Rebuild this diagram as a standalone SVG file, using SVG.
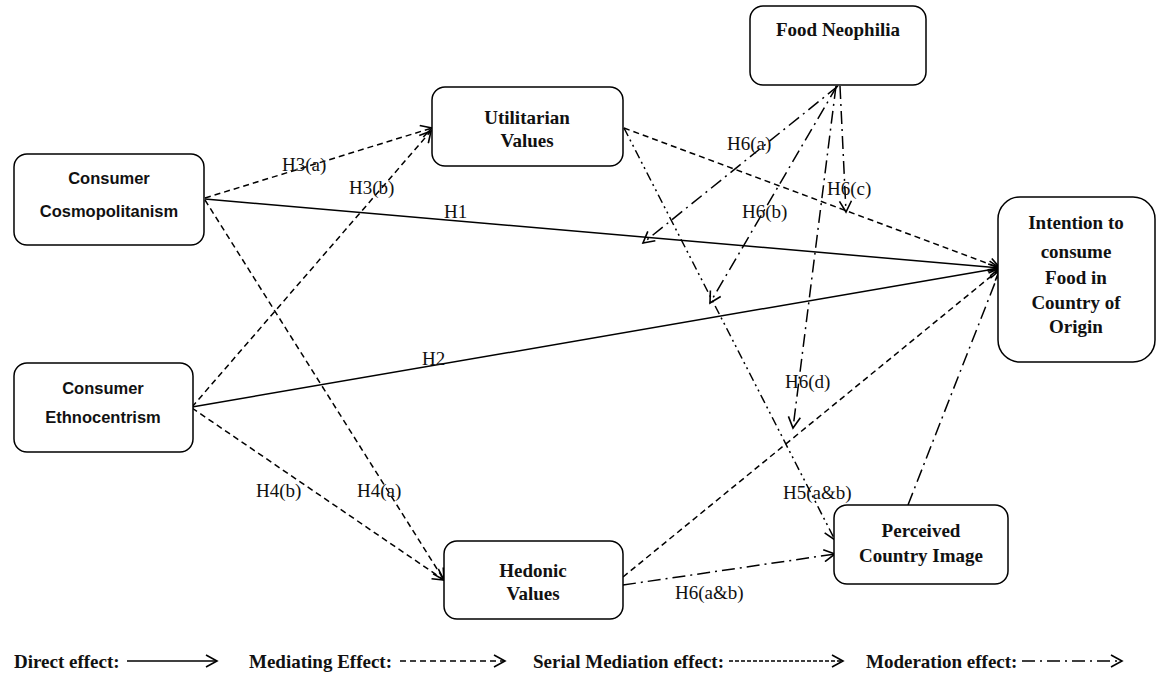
<svg xmlns="http://www.w3.org/2000/svg" width="1161" height="675" viewBox="0 0 1161 675">
<defs>
<marker id="ah" markerWidth="14" markerHeight="14" refX="12" refY="7" orient="auto" markerUnits="userSpaceOnUse">
<path d="M1,1 L12,7 L1,13" fill="none" stroke="#000" stroke-width="1.6"/>
</marker>
<style>
.box{fill:#fff;stroke:#000;stroke-width:1.5}
.t{font-family:'Liberation Serif','Times New Roman',serif;font-weight:bold;font-size:19px;text-anchor:middle;fill:#111}
.s{font-family:'Liberation Sans',Arial,sans-serif;font-weight:bold;font-size:16.5px;text-anchor:middle;fill:#111}
.lb{font-family:'Liberation Serif','Times New Roman',serif;font-size:19px;fill:#111}
.lg{font-family:'Liberation Serif','Times New Roman',serif;font-weight:bold;font-size:19px;fill:#111}
.c{fill:none;stroke:#000;stroke-width:1.5;marker-end:url(#ah)}
.dash{stroke-dasharray:6,4}
.fine{stroke-dasharray:4,2}
.serial{stroke-dasharray:9,4,2,4,2,4}
.mod{stroke-dasharray:13,5,2,5}
</style>
</defs>
<rect width="1161" height="675" fill="#fff"/>
<g id="connectors">
<line class="c" x1="205" y1="199" x2="1000" y2="268"/>
<line class="c" x1="192" y1="407" x2="1000" y2="268"/>
<line class="c dash" x1="205" y1="198" x2="432" y2="128"/>
<line class="c dash" x1="192" y1="407" x2="431" y2="131"/>
<line class="c dash" x1="205" y1="200" x2="444" y2="580"/>
<line class="c dash" x1="192" y1="408" x2="444" y2="580"/>
<line class="c dash" x1="624" y1="128" x2="1000" y2="268"/>
<line class="c dash" x1="623" y1="577" x2="1000" y2="269"/>
<line class="c serial" x1="624" y1="128" x2="835" y2="540"/>
<line class="c mod" x1="838" y1="86" x2="643" y2="243"/>
<line class="c mod" x1="837" y1="86" x2="710" y2="303"/>
<line class="c mod" x1="840" y1="86" x2="846" y2="212"/>
<line class="c mod" x1="836" y1="86" x2="793" y2="428"/>
<line class="c mod" x1="623" y1="585" x2="835" y2="554"/>
<line class="c mod" x1="908" y1="505" x2="1000" y2="270"/>
<text class="lb" x="444" y="218">H1</text>
<text class="lb" x="422" y="365">H2</text>
<text class="lb" x="282" y="171">H3(a)</text>
<text class="lb" x="349" y="194">H3(b)</text>
<text class="lb" x="357" y="497">H4(a)</text>
<text class="lb" x="256" y="497">H4(b)</text>
<text class="lb" x="727" y="150">H6(a)</text>
<text class="lb" x="742" y="218">H6(b)</text>
<text class="lb" x="827" y="195">H6(c)</text>
<text class="lb" x="785" y="388">H6(d)</text>
<text class="lb" x="783" y="499">H5(a&amp;b)</text>
<text class="lb" x="675" y="599">H6(a&amp;b)</text>
</g>
<g id="cc">
<rect class="box" x="14" y="154" width="190" height="91" rx="13"/>
<text class="s" x="109" y="184">Consumer</text>
<text class="s" x="109" y="217">Cosmopolitanism</text>
</g>
<g id="ce">
<rect class="box" x="14" y="363" width="179" height="89" rx="13"/>
<text class="s" x="103" y="394">Consumer</text>
<text class="s" x="103" y="423">Ethnocentrism</text>
</g>
<g id="uv">
<rect class="box" x="432" y="87" width="191" height="79" rx="13"/>
<text class="t" x="527" y="124">Utilitarian</text>
<text class="t" x="527" y="147">Values</text>
</g>
<g id="fn">
<rect class="box" x="750" y="6" width="176" height="79" rx="13"/>
<text class="t" x="838" y="36">Food Neophilia</text>
</g>
<g id="ic">
<rect class="box" x="998" y="197" width="157" height="165" rx="22"/>
<text class="t" x="1076" y="229">Intention to</text>
<text class="t" x="1076" y="258">consume</text>
<text class="t" x="1076" y="284">Food in</text>
<text class="t" x="1076" y="309">Country of</text>
<text class="t" x="1076" y="333">Origin</text>
</g>
<g id="pci">
<rect class="box" x="834" y="505" width="174" height="79" rx="13"/>
<text class="t" x="921" y="537">Perceived</text>
<text class="t" x="921" y="562">Country Image</text>
</g>
<g id="hv">
<rect class="box" x="444" y="541" width="179" height="78" rx="13"/>
<text class="t" x="533" y="577">Hedonic</text>
<text class="t" x="533" y="600">Values</text>
</g>
<g id="legend">
<text class="lg" x="14" y="668">Direct effect:</text>
<line class="c" x1="127" y1="661" x2="217" y2="661"/>
<text class="lg" x="249" y="668">Mediating Effect:</text>
<line class="c dash" x1="400" y1="661" x2="505" y2="661"/>
<text class="lg" x="533" y="668">Serial Mediation effect:</text>
<line class="c fine" x1="729" y1="661" x2="843" y2="661"/>
<text class="lg" x="866" y="668">Moderation effect:</text>
<line class="c mod" x1="1022" y1="661" x2="1122" y2="661"/>
</g>
</svg>
